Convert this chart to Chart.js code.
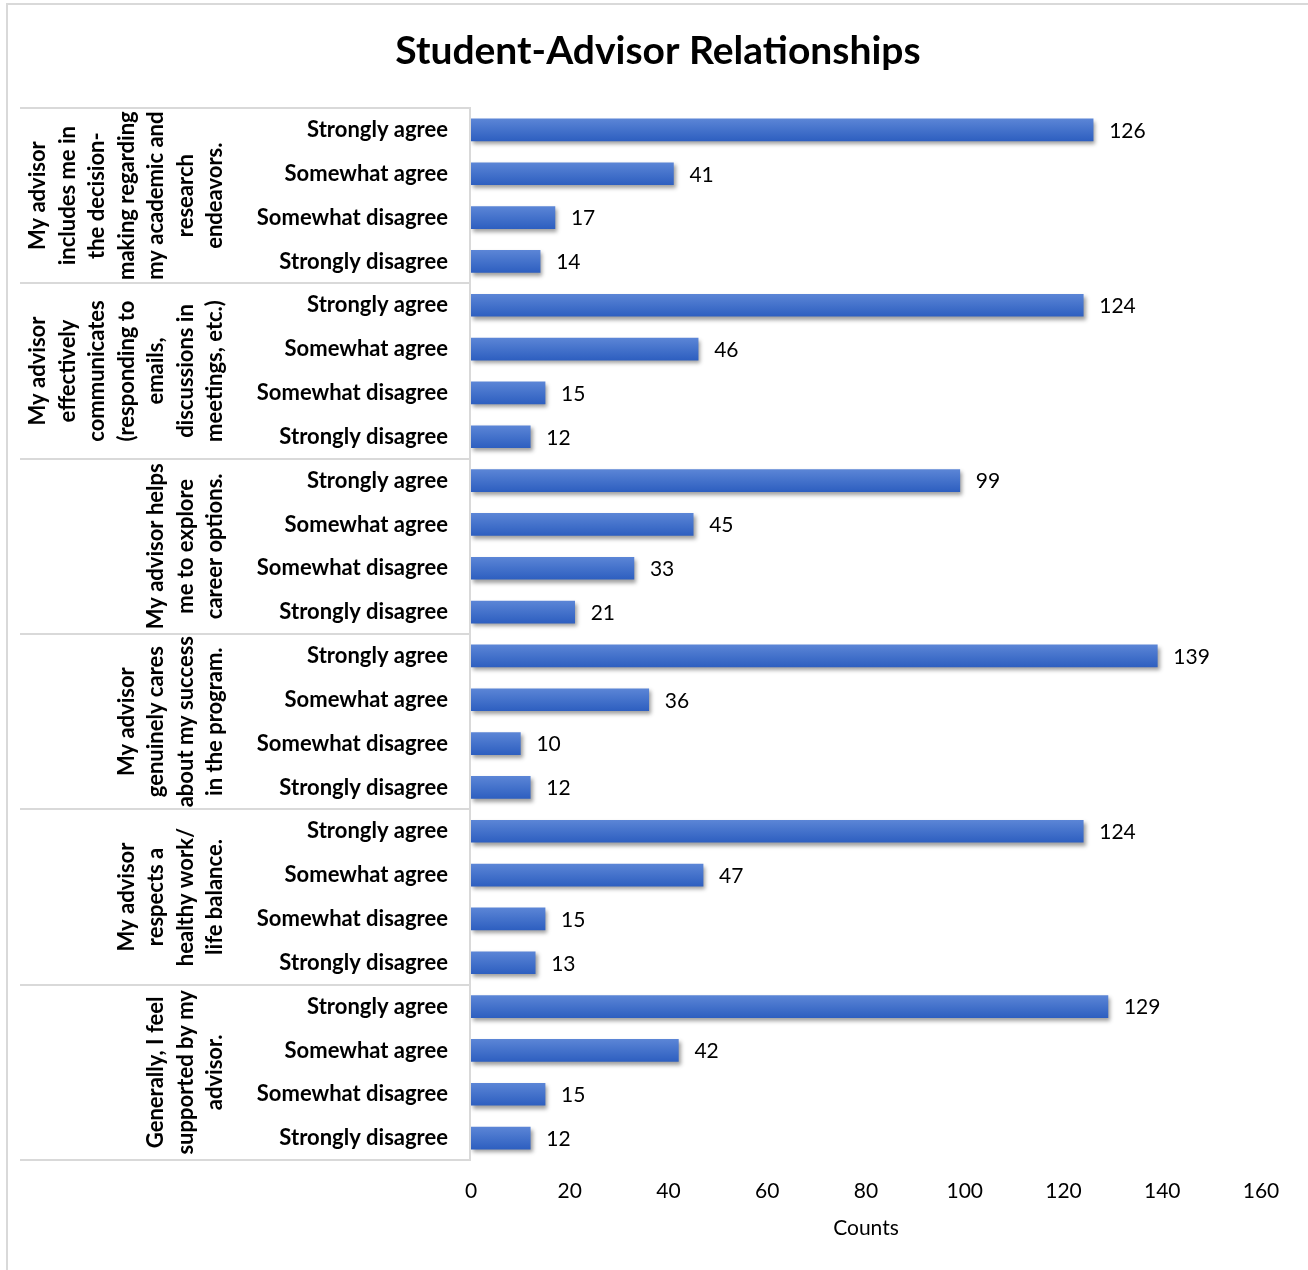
<!DOCTYPE html>
<html>
<head>
<meta charset="utf-8">
<script src="https://cdn.jsdelivr.net/npm/chart.js@4.4.1/dist/chart.umd.min.js"></script>
<style>
  html, body { margin: 0; padding: 0; background: #ffffff; }
  #wrap { width: 1308px; height: 1270px; position: relative; }
</style>
</head>
<body>
<div id="wrap"><canvas id="c" width="1308" height="1270"></canvas></div>
<script>
// ---- data ----
const responseLevels = ["Strongly agree", "Somewhat agree", "Somewhat disagree", "Strongly disagree"];
const statementLines = [
  ["My advisor", "includes me in", "the decision-", "making regarding", "my academic and", "research", "endeavors."],
  ["My advisor", "effectively", "communicates", "(responding to", "emails,", "discussions in", "meetings, etc.)"],
  ["My advisor helps", "me to explore", "career options."],
  ["My advisor", "genuinely cares", "about my success", "in the program."],
  ["My advisor", "respects a", "healthy work/", "life balance."],
  ["Generally, I feel", "supported by my", "advisor."]
];
const includesMe      = [126, 41, 17, 14];
const communicates    = [124, 46, 15, 12];
const careerOptions   = [99, 45, 33, 21];
const caresSuccess    = [139, 36, 10, 12];
const workLifeBalance = [124, 47, 15, 13];
const feelSupported   = [129, 42, 15, 12];
const xTickMax = 160;
const xTickStep = 20;
const chartTitle = "Student-Advisor Relationships";
const xTitle = "Counts";

const groups = [includesMe, communicates, careerOptions, caresSuccess, workLifeBalance, feelSupported];
const categoryLabels = [];
const counts = [];
groups.forEach(g => { responseLevels.forEach((lvl, i) => { categoryLabels.push(lvl); counts.push(g[i]); }); });

const FONT = "Lato";
const GRID = "#d9d9d9";

function barFill(ctx) {
  const chart = ctx.chart;
  if (!chart.chartArea || ctx.type !== 'data') return '#4472C4';
  const y = chart.scales.y.getPixelForValue(ctx.dataIndex);
  const g = chart.ctx.createLinearGradient(0, y - 11, 0, y + 11);
  g.addColorStop(0, '#5b85d6');
  g.addColorStop(0.5, '#4472cb');
  g.addColorStop(1, '#2e5fc0');
  return g;
}

const decorPlugin = {
  id: 'decor',
  beforeDraw(chart) {
    const c = chart.ctx;
    c.save();
    c.fillStyle = '#ffffff';
    c.fillRect(0, 0, chart.width, chart.height);
    c.strokeStyle = GRID;
    c.lineWidth = 2;
    c.beginPath();
    c.moveTo(7, chart.height);
    c.lineTo(7, 4);
    c.lineTo(chart.width, 4);
    c.stroke();
    // title
    c.fillStyle = '#000000';
    c.font = 'bold 39px ' + FONT;
    c.textAlign = 'center';
    c.textBaseline = 'middle';
    c.fillText(chartTitle, 658, 51);
    c.restore();
  },
  beforeDatasetsDraw(chart) {
    const c = chart.ctx;
    c.save();
    c.shadowColor = 'rgba(0,0,0,0.38)';
    c.shadowBlur = 4;
    c.shadowOffsetX = 2;
    c.shadowOffsetY = 3;
  },
  afterDatasetsDraw(chart) {
    chart.ctx.restore();
    const c = chart.ctx;
    const y = chart.scales.y;
    const area = chart.chartArea;
    const n = responseLevels.length;
    const step = (y.getPixelForValue(1) - y.getPixelForValue(0));
    c.save();
    // separators
    c.strokeStyle = GRID;
    c.lineWidth = 2;
    for (let gi = 0; gi <= groups.length; gi++) {
      const py = Math.round(y.getPixelForValue(gi * n) - step / 2);
      c.beginPath();
      c.moveTo(20, py);
      c.lineTo(area.left, py);
      c.stroke();
    }
    // axis line
    c.beginPath();
    c.moveTo(area.left - 1, area.top);
    c.lineTo(area.left - 1, area.bottom);
    c.stroke();
    // group labels
    c.fillStyle = '#000000';
    c.font = 'bold 22px ' + FONT;
    c.textAlign = 'center';
    c.textBaseline = 'middle';
    statementLines.forEach((lines, gi) => {
      const top = y.getPixelForValue(gi * n) - step / 2;
      const bot = y.getPixelForValue(gi * n + n - 1) + step / 2;
      const cy = (top + bot) / 2;
      const lastX = 215;
      const lh = 29.5;
      lines.forEach((ln, li) => {
        const x = lastX - (lines.length - 1 - li) * lh;
        c.save();
        c.translate(x, cy);
        c.rotate(-Math.PI / 2);
        c.fillText(ln, 0, 0);
        c.restore();
      });
    });
    // value labels
    c.font = '21px ' + FONT;
    c.textAlign = 'left';
    c.fillStyle = '#000000';
    const meta = chart.getDatasetMeta(0);
    meta.data.forEach((bar, i) => {
      c.fillText(String(counts[i]), bar.x + 16, bar.y + 1);
    });
    c.restore();
  }
};

new Chart(document.getElementById('c'), {
  type: 'bar',
  data: {
    labels: categoryLabels,
    datasets: [{
      data: counts,
      backgroundColor: barFill,
      borderWidth: 0,
      barThickness: 22
    }]
  },
  options: {
    indexAxis: 'y',
    responsive: false,
    animation: false,
    layout: { padding: { left: 0, right: 47, top: 108, bottom: 0 } },
    plugins: {
      legend: { display: false },
      tooltip: { enabled: false },
      title: { display: false }
    },
    scales: {
      x: {
        min: 0,
        max: xTickMax,
        ticks: { stepSize: xTickStep, color: '#000000', font: { family: FONT, size: 21 }, padding: 19 },
        grid: { display: false, drawTicks: false },
        border: { display: false },
        title: { display: true, text: xTitle, color: '#000000', font: { family: FONT, size: 21 }, padding: { top: 0, bottom: 29 } },
        afterFit(s) { s.height = 110; }
      },
      y: {
        ticks: { color: '#000000', font: { family: FONT, size: 22, weight: 'bold' }, padding: 23, autoSkip: false },
        grid: { display: false, drawTicks: false },
        border: { display: false },
        afterFit(s) { s.width = 471; }
      }
    }
  },
  plugins: [decorPlugin]
});
</script>
</body>
</html>
